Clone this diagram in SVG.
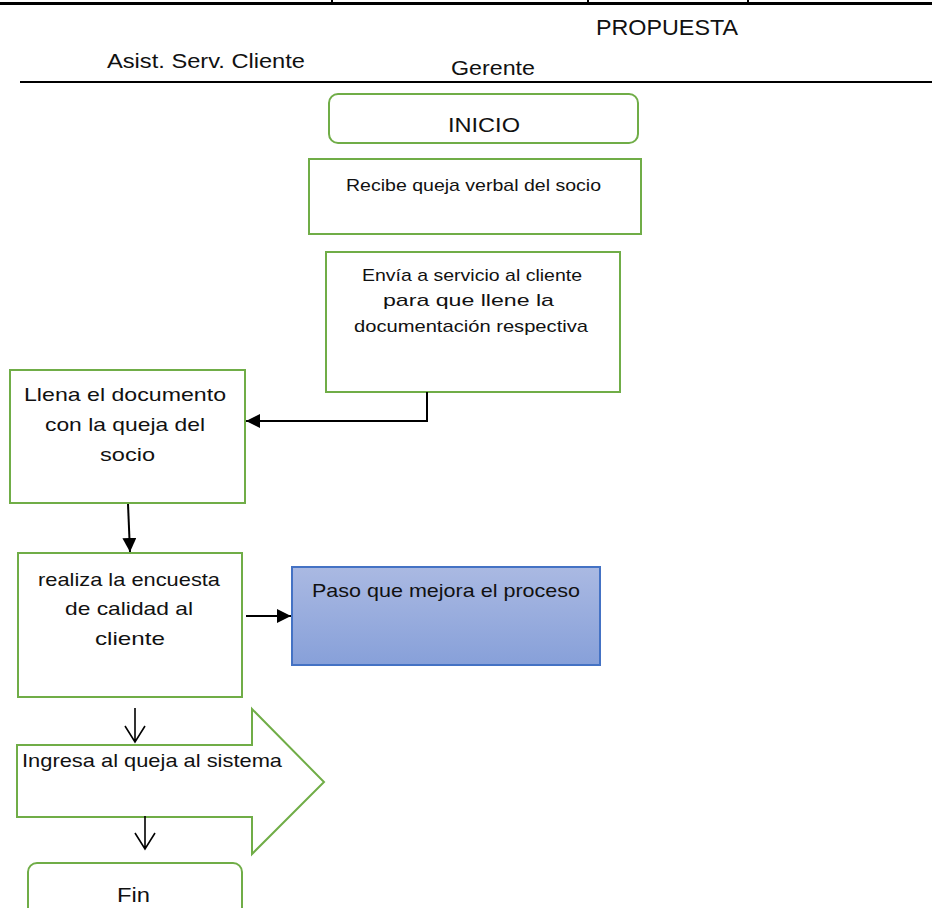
<svg xmlns="http://www.w3.org/2000/svg" width="932" height="908" viewBox="0 0 932 908">
  <defs>
    <linearGradient id="blueFill" x1="0" y1="0" x2="0" y2="1">
      <stop offset="0" stop-color="#aab9e2"/>
      <stop offset="1" stop-color="#87a0d9"/>
    </linearGradient>
    <marker id="solidHead" viewBox="0 0 10 10" refX="10" refY="5" markerWidth="14" markerHeight="14" markerUnits="userSpaceOnUse" orient="auto">
      <path d="M0,0 L10,5 L0,10 Z" fill="#000"/>
    </marker>
  </defs>
  <style>
    .box { fill: #fff; stroke: #70ad47; stroke-width: 2; }
    .txt { font-family: "Liberation Sans", "DejaVu Sans", sans-serif; fill: #111; text-anchor: middle; }
    .hdr { font-family: "Liberation Sans", "DejaVu Sans", sans-serif; fill: #111; }
    .conn { fill: none; stroke: #000; stroke-width: 2; }
    .open { fill: none; stroke: #000; stroke-width: 1.6; }
  </style>

  <rect width="932" height="908" fill="#fff"/>

  <!-- header rules and lane labels -->
  <g id="header">
    <line x1="0" y1="3.5" x2="932" y2="3.5" stroke="#000" stroke-width="3"/>
    <line x1="332" y1="0" x2="332" y2="3" stroke="#000" stroke-width="2"/>
    <line x1="588" y1="0" x2="588" y2="3" stroke="#000" stroke-width="2"/>
    <line x1="748" y1="0" x2="748" y2="3" stroke="#000" stroke-width="2"/>
    <line x1="20" y1="82" x2="932" y2="82" stroke="#000" stroke-width="2"/>
    <text class="hdr" x="596" y="35" font-size="22" textLength="142" lengthAdjust="spacingAndGlyphs">PROPUESTA</text>
    <text class="hdr" x="107" y="68" font-size="20" textLength="198" lengthAdjust="spacingAndGlyphs">Asist. Serv. Cliente</text>
    <text class="hdr" x="451" y="75" font-size="20" textLength="84" lengthAdjust="spacingAndGlyphs">Gerente</text>
  </g>

  <g id="inicio">
    <rect class="box" x="329" y="94" width="309" height="49" rx="9"/>
    <text class="txt" x="484" y="132" font-size="20" textLength="72" lengthAdjust="spacingAndGlyphs">INICIO</text>
  </g>

  <g id="recibe">
    <rect class="box" x="309" y="159" width="332" height="75"/>
    <text class="txt" x="473.5" y="191" font-size="17" textLength="255" lengthAdjust="spacingAndGlyphs">Recibe queja verbal del socio</text>
  </g>

  <g id="envia">
    <rect class="box" x="326" y="252" width="294" height="140"/>
    <text class="txt" x="472" y="281" font-size="17" textLength="220" lengthAdjust="spacingAndGlyphs">Envía a servicio al cliente</text>
    <text class="txt" x="468.5" y="306" font-size="17" textLength="171" lengthAdjust="spacingAndGlyphs">para que llene la</text>
    <text class="txt" x="471" y="332" font-size="17" textLength="234" lengthAdjust="spacingAndGlyphs">documentación respectiva</text>
  </g>

  <g id="llena">
    <rect class="box" x="10" y="370" width="235" height="133"/>
    <text class="txt" x="125" y="401" font-size="19" textLength="202" lengthAdjust="spacingAndGlyphs">Llena el documento</text>
    <text class="txt" x="125" y="431" font-size="19" textLength="160" lengthAdjust="spacingAndGlyphs">con la queja del</text>
    <text class="txt" x="127.5" y="461" font-size="19" textLength="55" lengthAdjust="spacingAndGlyphs">socio</text>
  </g>

  <g id="realiza">
    <rect class="box" x="18" y="553" width="224" height="144"/>
    <text class="txt" x="129" y="586" font-size="19" textLength="182" lengthAdjust="spacingAndGlyphs">realiza la encuesta</text>
    <text class="txt" x="129" y="615" font-size="19" textLength="128" lengthAdjust="spacingAndGlyphs">de calidad al</text>
    <text class="txt" x="130" y="645" font-size="19" textLength="70" lengthAdjust="spacingAndGlyphs">cliente</text>
  </g>

  <g id="mejora">
    <rect x="292" y="567" width="308" height="98" fill="url(#blueFill)" stroke="#4472c4" stroke-width="2"/>
    <text class="txt" x="446" y="597" font-size="19" textLength="268" lengthAdjust="spacingAndGlyphs">Paso que mejora el proceso</text>
  </g>

  <g id="ingresa">
    <polygon class="box" points="17,745 252,745 252,709 324,782 252,854 252,817 17,817"/>
    <text class="txt" x="152" y="767" font-size="19" textLength="260" lengthAdjust="spacingAndGlyphs">Ingresa al queja al sistema</text>
  </g>

  <g id="fin">
    <rect class="box" x="28" y="863" width="214" height="60" rx="9"/>
    <text class="txt" x="133.5" y="902" font-size="20" textLength="33" lengthAdjust="spacingAndGlyphs">Fin</text>
  </g>

  <!-- connectors -->
  <g id="connectors">
    <polyline class="conn" points="427,392 427,421 246,421" marker-end="url(#solidHead)"/>
    <line class="conn" x1="128" y1="504" x2="130" y2="552" marker-end="url(#solidHead)"/>
    <line class="conn" x1="246" y1="616" x2="291" y2="616" marker-end="url(#solidHead)"/>
    <path class="open" d="M135,708 L135,742 M125,726 L135,742 L145,726"/>
    <path class="open" d="M145,816 L145,849 M135,833 L145,849 L155,833"/>
  </g>
</svg>
